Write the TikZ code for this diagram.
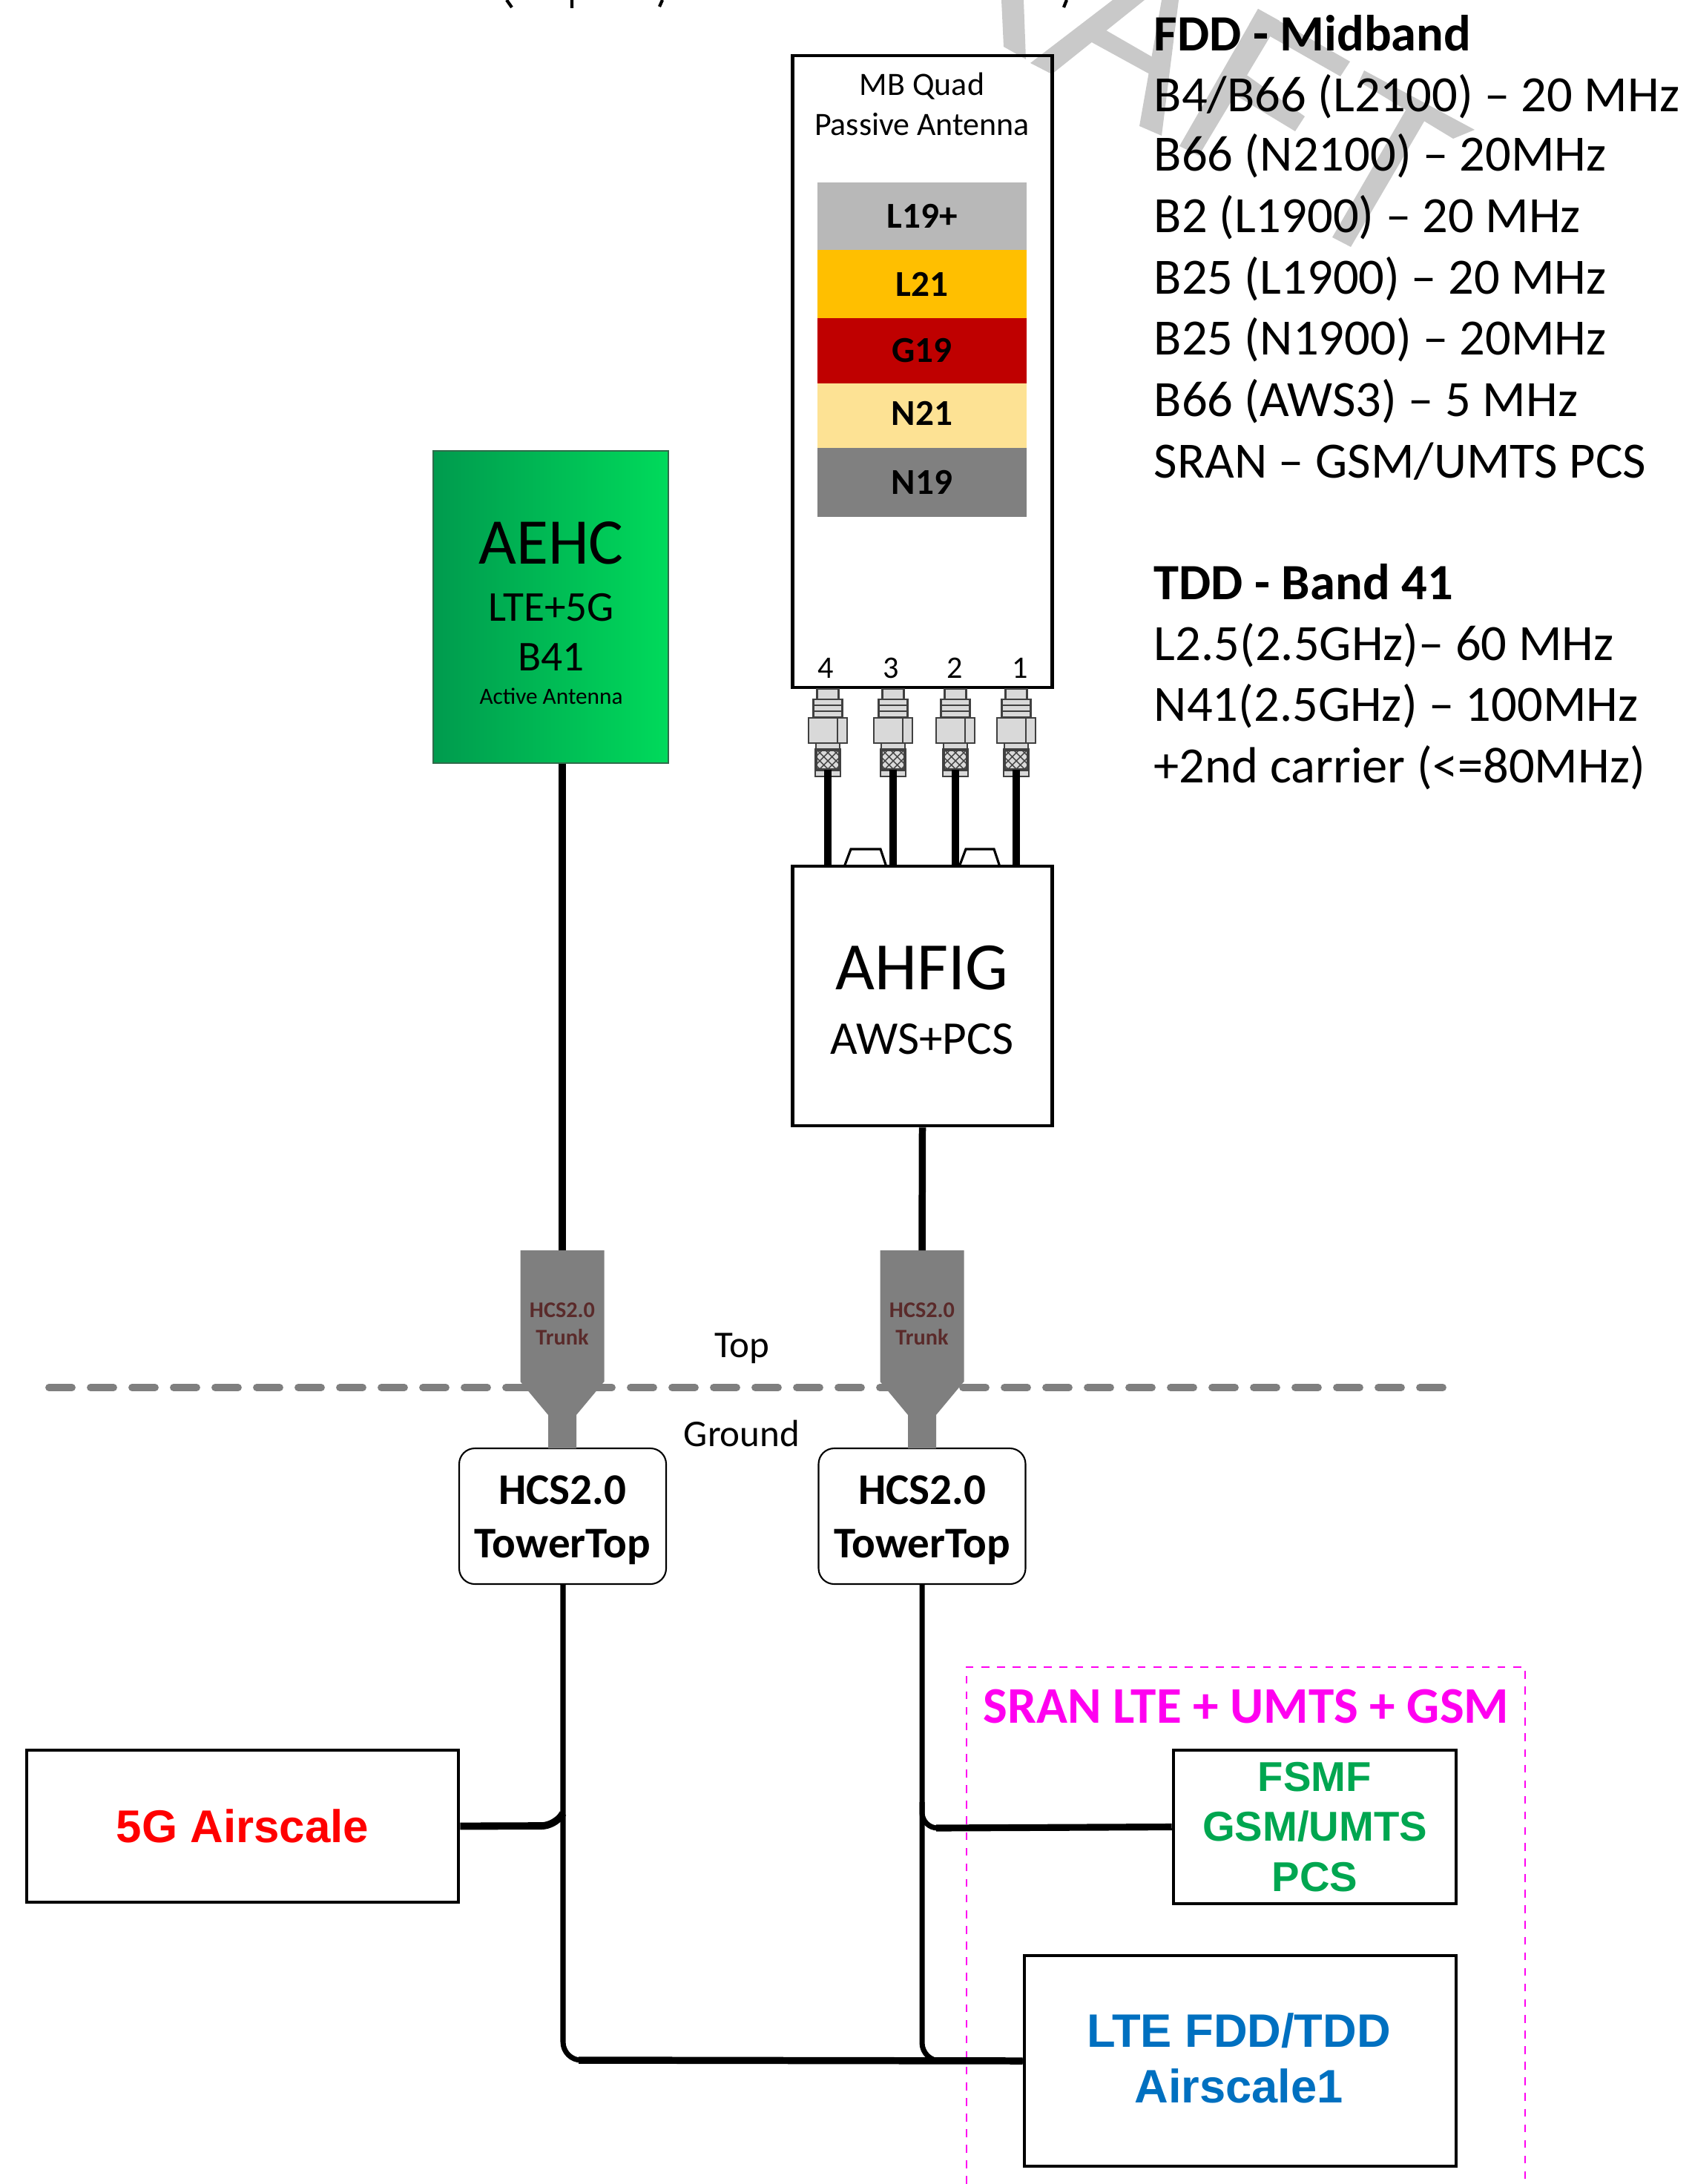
\documentclass[tikz,border=0pt]{standalone}
\usepackage{fontspec}
\setmainfont{Carlito}
\newfontfamily\arialfont{Liberation Sans}
\usepackage{xcolor}
\usetikzlibrary{positioning,calc}
\definecolor{wmgray}{HTML}{C9C9C9}
\definecolor{trunkgray}{HTML}{7F7F7F}
\definecolor{trunktext}{HTML}{5A2A2A}
\definecolor{sranpink}{HTML}{FF00F0}
\definecolor{fsmfgreen}{HTML}{00A650}
\definecolor{ltblue}{HTML}{0070C0}
\definecolor{plugfill}{HTML}{D9D9D9}
\definecolor{aehcdark}{HTML}{009B4E}
\definecolor{aehclight}{HTML}{00DA5B}
\definecolor{aehcedge}{HTML}{2F6B4A}
\tikzstyle{bandbox}=[rectangle, minimum width=2.82cm, inner sep=0pt, font=\fontsize{14}{16}\selectfont\bfseries]
\tikzstyle{blackbox}=[rectangle, draw=black, line width=1.3pt, inner sep=0pt, align=center]
\tikzstyle{towerbox}=[rectangle, draw=black, fill=white, rounded corners=6pt, line width=0.6pt,
                      minimum width=2.79cm, minimum height=1.83cm, inner sep=0pt]
\tikzstyle{towertext}=[inner sep=0pt, align=center, font=\fontsize{16.8}{20.5}\selectfont\bfseries]
\tikzstyle{trunklabel}=[inner sep=0pt, align=center, text=trunktext, font=\fontsize{8.6}{10.6}\selectfont\bfseries]
\tikzstyle{bandline}=[anchor=west, inner sep=0pt, font=\fontsize{19.5}{20}\selectfont]
\tikzstyle{cable}=[line width=2.7pt, draw=black]
\tikzstyle{plugpart}=[draw=black!75, fill=plugfill, line width=0.6pt]
% one connector below the antenna, #1 is its centre and #2 the port name
\newcommand{\portplug}[2]{
  \begin{scope}[shift={(#1,0)}]
    \draw[plugpart] (-0.145,-9.29) rectangle (0.145,-9.43);
    \draw[plugpart] (-0.195,-9.43) rectangle (0.195,-9.67);
    \draw[draw=black!75, line width=0.5pt] (-0.195,-9.51) -- (0.195,-9.51) (-0.195,-9.59) -- (0.195,-9.59);
    \draw[plugpart] (-0.26,-9.68) rectangle (0.26,-10.02);
    \draw[draw=black!75, line width=0.5pt] (0.13,-9.68) -- (0.13,-10.02);
    \draw[plugpart] (-0.16,-10.02) rectangle (0.16,-10.11);
    \draw[plugpart] (-0.17,-10.38) rectangle (0.17,-10.47);
    \draw[plugpart, line width=1pt] (-0.16,-10.11) rectangle (0.16,-10.38);
    \begin{scope}
      \clip (-0.16,-10.11) rectangle (0.16,-10.38);
      \foreach \k in {-3,...,3} {
        \draw[black!75, line width=0.4pt] (\k*0.11-0.15,-10.11) -- (\k*0.11+0.12,-10.38);
        \draw[black!75, line width=0.4pt] (\k*0.11+0.15,-10.11) -- (\k*0.11-0.12,-10.38);
      }
    \end{scope}
    \coordinate (#2) at (0,-10.38);
  \end{scope}
}

\begin{document}
\begin{tikzpicture}[x=1cm, y=1cm]
  \useasboundingbox (0,0) rectangle (22.80,-29.45);

  % watermark pieces behind everything
  \fill[wmgray] (13.50,0) -- (13.80,0) -- (13.83,-0.80) -- (13.53,-0.63) -- cycle;
  \fill[wmgray] (15.00,0) -- (15.43,0) -- (14.18,-1.00) -- (13.89,-0.85) -- cycle;
  \fill[wmgray] (14.86,-0.38) -- (15.71,-0.87) -- (15.50,-1.00) -- (14.68,-0.55) -- cycle;
  \fill[wmgray] (15.66,0) -- (15.89,0) -- (15.66,-1.83) -- (15.36,-1.70) -- cycle;
  \fill[wmgray] (16.96,-0.12) -- (18.20,-0.83) -- (18.07,-1.03) -- (16.84,-0.33) -- cycle;
  \fill[wmgray] (16.96,-0.12) -- (17.25,-0.28) -- (16.16,-2.10) -- (15.90,-1.97) -- cycle;
  \fill[wmgray] (16.79,-1.00) -- (17.59,-1.57) -- (17.46,-1.77) -- (16.60,-1.25) -- cycle;
  \fill[wmgray] (18.39,-0.95) -- (19.88,-1.75) -- (19.59,-1.87) -- (18.32,-1.10) -- cycle;
  \fill[wmgray] (19.00,-1.40) -- (19.25,-1.55) -- (18.21,-3.33) -- (17.96,-3.20) -- cycle;

  % title ends cut off by the page edge
  \draw[black, line width=1.2pt] (6.83,0) -- (6.90,-0.10) (7.71,0) -- (7.71,-0.11) (8.93,0) -- (8.89,-0.09) (14.38,0) -- (14.34,-0.10);

  % ground level line
  \draw[trunkgray, line width=2.8pt, dash pattern=on 0.31cm off 0.25cm, line cap=round] (0.66,-18.71) -- (19.46,-18.71);
  \node[inner sep=0pt, font=\fontsize{14.5}{16}\selectfont] (toplbl) at (10.00,-18.18) {Top};
  \node[inner sep=0pt, font=\fontsize{14.5}{16}\selectfont] (gndlbl) at (10.00,-19.33) {Ground};

  % antenna
  \node[blackbox, minimum width=3.50cm, minimum height=8.52cm] (ant) at (12.435,-5.01) {};
  \node[inner sep=0pt, align=center, font=\fontsize{12.5}{15.4}\selectfont] (antlbl) at (12.43,-1.40) {MB Quad\\Passive Antenna};
  \node[bandbox, fill=black!28, minimum height=0.91cm] (l19)  at (12.43,-2.915) {L19+};
  \node[bandbox, fill=orange!50!yellow, minimum height=0.92cm] (l21)  at (12.43,-3.83) {L21};
  \node[bandbox, fill=red!75!black, minimum height=0.88cm] (g19)  at (12.43,-4.73) {G19};
  \node[bandbox, fill=yellow!50!orange!40, minimum height=0.87cm] (n21)  at (12.43,-5.605) {\raisebox{2pt}{N21}};
  \node[bandbox, fill=black!50, minimum height=0.93cm] (n19)  at (12.43,-6.505) {N19};

  % ports
  \foreach \px/\pn in {11.16/pa, 12.04/pb, 12.88/pc, 13.70/pd} {
    \portplug{\px}{\pn}
  }
  \node[inner sep=0pt, font=\fontsize{12}{14}\selectfont] (n4) at (11.13,-9.01) {4};
  \node[inner sep=0pt, font=\fontsize{12}{14}\selectfont] (n3) at (12.01,-9.01) {3};
  \node[inner sep=0pt, font=\fontsize{12}{14}\selectfont] (n2) at (12.87,-9.01) {2};
  \node[inner sep=0pt, font=\fontsize{12}{14}\selectfont] (n1) at (13.75,-9.01) {1};

  % AHFIG
  \node[blackbox, minimum width=3.50cm, minimum height=3.50cm] (ahfig) at (12.435,-13.43) {};
  \node[inner sep=0pt, font=\fontsize{26}{28}\selectfont] (ahfigtxt) at (12.43,-13.05) {AHFIG};
  \node[inner sep=0pt, font=\fontsize{18}{20}\selectfont] (ahfigsub) at (12.43,-14.01) {AWS+PCS};

  \draw[line width=0.9pt] (11.38,-11.69) -- (11.47,-11.45) -- (11.87,-11.45) -- (11.95,-11.69);
  \draw[line width=0.9pt] (12.93,-11.69) -- (13.02,-11.45) -- (13.40,-11.45) -- (13.48,-11.69);

  \draw[cable] (pa) -- (pa |- ahfig.north);
  \draw[cable] (pb) -- (pb |- ahfig.north);
  \draw[cable] (pc) -- (pc |- ahfig.north);
  \draw[cable] (pd) -- (pd |- ahfig.north);

  % AEHC
  \node[rectangle, draw=aehcedge, line width=0.6pt, left color=aehcdark, right color=aehclight,
        minimum width=3.17cm, minimum height=4.21cm, inner sep=0pt] (aehc) at (7.425,-8.185) {};
  \node[inner sep=0pt, font=\fontsize{25}{27}\selectfont] (aehctxt) at (7.43,-7.32) {AEHC};
  \node[inner sep=0pt, font=\fontsize{16.3}{18}\selectfont] (aehclte) at (7.43,-8.19) {LTE+5G};
  \node[inner sep=0pt, font=\fontsize{16.3}{18}\selectfont] (aehcb41) at (7.43,-8.86) {B41};
  \node[inner sep=0pt, font=\fontsize{8.9}{10}\selectfont] (aehcact) at (7.43,-9.39) {Active Antenna};

  % tower top boxes
  \node[towerbox] (towa) at (7.585,-20.445) {};
  \node[towerbox] (towb) at (12.43,-20.445) {};
  \node[towertext] (towatxt) at (7.585,-20.50) {HCS2.0\\TowerTop};
  \node[towertext] (towbtxt) at (12.43,-20.50) {HCS2.0\\TowerTop};

  % trunks
  \foreach \tc/\tn in {7.58/trka, 12.43/trkb} {
    \fill[trunkgray] (\tc-0.565,-16.86) -- (\tc+0.565,-16.86) -- (\tc+0.565,-18.63) -- (\tc+0.19,-19.08)
      -- (\tc+0.19,-19.53) -- (\tc-0.19,-19.53) -- (\tc-0.19,-19.08) -- (\tc-0.565,-18.63) -- cycle;
    \coordinate (\tn) at (\tc,-16.86);
    \node[trunklabel] at (\tc,-17.85) {HCS2.0\\Trunk};
  }
  \draw[cable] (aehc.south -| trka) -- (trka);
  \draw[cable] (ahfig.south) -- (trkb);

  % air scale boxes
  \node[blackbox, minimum width=5.82cm, minimum height=2.05cm, text=red, font=\arialfont\fontsize{17.6}{20}\selectfont\bfseries] (air5g) at (3.27,-24.625) {5G Airscale};
  \node[blackbox, minimum width=3.81cm, minimum height=2.07cm, text=fsmfgreen, font=\arialfont\fontsize{16}{19.2}\selectfont\bfseries] (fsmf) at (17.725,-24.635) {FSMF\\GSM/UMTS\\PCS};
  \node[blackbox, minimum width=5.82cm, minimum height=2.84cm] (lte) at (16.72,-27.79) {};
  \node[inner sep=0pt, align=center, text=ltblue, font=\arialfont\fontsize{18}{21.3}\selectfont\bfseries] (ltetxt) at (16.70,-27.75) {LTE FDD/TDD\\Airscale1};

  % sran frame, runs off the page at the foot
  \draw[sranpink, line width=0.6pt, dashed] (13.03,-29.45) -- (13.03,-22.48) -- (20.56,-22.48) -- (20.56,-29.45);
  \node[inner sep=0pt, text=sranpink, font=\fontsize{19.7}{22}\selectfont\bfseries] (sranlbl) at (16.80,-23.01) {SRAN LTE + UMTS + GSM};

  % feeder lines
  \coordinate (feedj) at (7.59,-27.78);
  \draw[line width=2pt, rounded corners=7pt] (towa.south -| feedj) -- (feedj) -- (lte.west);
  \draw[line width=2pt, rounded corners=7pt] (towb.south) -- (towb.south |- lte.west) -- (lte.west);
  \draw[line width=2.7pt] (7.80,-27.78) -- (lte.west);
  \draw[line width=2.8pt, rounded corners=5pt] (air5g.east) -- (7.48,-24.62) -- (7.59,-24.45);
  \draw[line width=2pt, rounded corners=6pt] (12.43,-24.30) -- (12.43,-24.65) -- (12.70,-24.65);
  \draw[line width=2.6pt] (12.62,-24.65) -- (fsmf.west);

  % band lists
  \node[bandline, font=\fontsize{19.5}{20}\selectfont\bfseries] (fddhd) at (15.55,-0.45) {FDD - Midband};
  \node[bandline] (fdda) at (15.55,-1.30) {B4/B66 (L2100) – 20 MHz};
  \node[bandline] (fddb) at (15.55,-2.10) {B66 (N2100) – 20MHz};
  \node[bandline] (fddc) at (15.55,-2.93) {B2 (L1900) – 20 MHz};
  \node[bandline] (fddd) at (15.55,-3.76) {B25 (L1900) – 20 MHz};
  \node[bandline] (fdde) at (15.55,-4.58) {B25 (N1900) – 20MHz};
  \node[bandline] (fddf) at (15.55,-5.41) {B66 (AWS3) – 5 MHz};
  \node[bandline] (fddg) at (15.55,-6.22) {SRAN – GSM/UMTS PCS};
  \node[bandline, font=\fontsize{19.5}{20}\selectfont\bfseries] (tddhd) at (15.55,-7.85) {TDD - Band 41};
  \node[bandline] (tdda) at (15.55,-8.70) {L2.5(2.5GHz)– 60 MHz};
  \node[bandline] (tddb) at (15.55,-9.52) {N41(2.5GHz) – 100MHz};
  \node[bandline] (tddc) at (15.55,-10.35) {+2nd carrier (<=80MHz)};

\end{tikzpicture}
\end{document}
